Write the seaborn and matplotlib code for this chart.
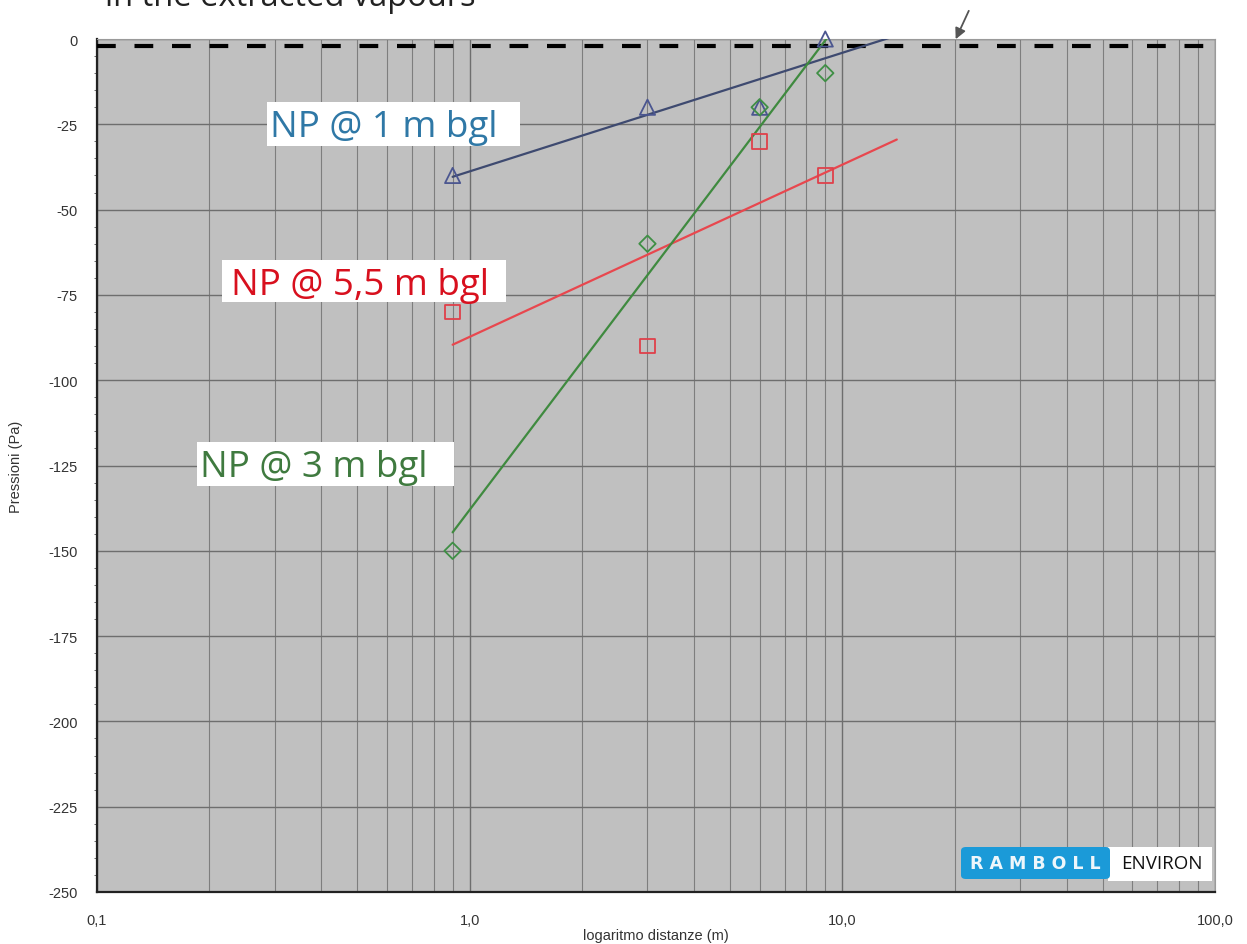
import numpy as np
import pandas as pd
import matplotlib
matplotlib.use("Agg")
import matplotlib.pyplot as plt
import seaborn as sns
from matplotlib.ticker import FixedLocator, NullFormatter, MultipleLocator
from matplotlib.patches import FancyBboxPatch, Rectangle

# ---- data ----
distances = [0.9, 3.0, 6.0, 9.0]
np_1m = [-40, -20, -20, 0]
np_5_5m = [-80, -90, -30, -40]
np_3m = [-150, -60, -20, -10]
series_names = ["NP @ 1 m bgl", "NP @ 5,5 m bgl", "NP @ 3 m bgl"]
threshold = -2
x_ticks = [0.1, 1.0, 10.0, 100.0]
x_tick_labels = ["0,1", "1,0", "10,0", "100,0"]
y_ticks = list(range(0, -251, -25))
fit_range = [0.9, 14.0]

sns.set_style("white")
plt.rcParams['font.family'] = ['Liberation Sans', 'DejaVu Sans']

W, H = 1247, 945
fig = plt.figure(figsize=(W / 100, H / 100), dpi=100)
ax = fig.add_axes([97/W, 1-893/H, (1215-97)/W, (893-40)/H])
ax.set_facecolor("#c0c0c0")

ax.set_xscale("log")
ax.set_xlim(0.1, 100)
ax.set_ylim(-250, 0)

# grid
ax.xaxis.set_major_locator(FixedLocator(x_ticks))
ax.xaxis.set_minor_locator(FixedLocator([m * 10.0**e for e in range(-1, 2) for m in range(2, 10)]))
ax.xaxis.set_minor_formatter(NullFormatter())
ax.set_xticklabels(x_tick_labels)
ax.set_yticks(y_ticks)
ax.set_yticklabels([str(v) for v in y_ticks])
ax.yaxis.set_minor_locator(MultipleLocator(5))
ax.grid(which="major", axis="both", color="#6e6e6e", linewidth=1.0)
ax.grid(which="minor", axis="x", color="#7e7e7e", linewidth=0.8)
ax.set_axisbelow(True)

ax.tick_params(axis="both", which="major", labelsize=10.5, labelcolor="#333333",
               length=4, color="#444444")
ax.tick_params(axis="y", which="major", pad=10)
ax.tick_params(axis="x", which="major", pad=11)
ax.tick_params(axis="y", which="minor", length=2.5, color="#555555", left=True)
ax.tick_params(axis="x", which="minor", length=0)
for s in ["left", "bottom"]:
    ax.spines[s].set_color("#222222")
    ax.spines[s].set_linewidth(1.6)
for s in ["top", "right"]:
    ax.spines[s].set_color("#9a9a9a")
    ax.spines[s].set_linewidth(0.8)

# threshold dashed line
ax.axhline(threshold, color="black", linewidth=3, dashes=(4.5, 4.5), zorder=3)

colors = {"NP @ 1 m bgl": "#3e4a70", "NP @ 5,5 m bgl": "#e8474e", "NP @ 3 m bgl": "#3f8a3f"}
marker_colors = {"NP @ 1 m bgl": "#4b5690", "NP @ 5,5 m bgl": "#e0404a", "NP @ 3 m bgl": "#3f8f45"}
markers = {"NP @ 1 m bgl": "^", "NP @ 5,5 m bgl": "s", "NP @ 3 m bgl": "D"}
msize = {"NP @ 1 m bgl": 120, "NP @ 5,5 m bgl": 110, "NP @ 3 m bgl": 70}

values = {"NP @ 1 m bgl": np_1m, "NP @ 5,5 m bgl": np_5_5m, "NP @ 3 m bgl": np_3m}
xfit = np.geomspace(fit_range[0], fit_range[1], 200)
for name in series_names:
    y = np.array(values[name], dtype=float)
    slope, intercept = np.polyfit(np.log10(distances), y, 1)
    fit_df = pd.DataFrame({"x": xfit, "y": intercept + slope * np.log10(xfit)})
    sns.lineplot(data=fit_df, x="x", y="y", ax=ax, color=colors[name], linewidth=1.6, zorder=4)

for name in ["NP @ 5,5 m bgl", "NP @ 1 m bgl", "NP @ 3 m bgl"]:
    df = pd.DataFrame({"x": distances, "y": values[name]})
    sns.scatterplot(data=df, x="x", y="y", ax=ax, marker=markers[name], s=msize[name],
                    facecolor="none", edgecolor=marker_colors[name], linewidth=1.3,
                    zorder=5, clip_on=False)

ax.set_xlabel("logaritmo distanze (m)", fontsize=10.5, color="#333333", labelpad=1)
ax.set_ylabel("Pressioni (Pa)", fontsize=10.5, color="#333333", labelpad=18)

# series labels (white boxes + text), positions in figure pixels
label_box = {"NP @ 1 m bgl": (267, 103, 520, 147), "NP @ 5,5 m bgl": (222, 261, 506, 303),
             "NP @ 3 m bgl": (197, 443, 454, 487)}
label_text = {"NP @ 1 m bgl": (270, 137), "NP @ 5,5 m bgl": (231, 295),
              "NP @ 3 m bgl": (200, 477)}
label_col = {"NP @ 1 m bgl": "#2f78a6", "NP @ 5,5 m bgl": "#d8101e", "NP @ 3 m bgl": "#3f7a3f"}
for name in series_names:
    x0, y0, x1, y1 = label_box[name]
    fig.patches.append(Rectangle((x0/W, 1-y1/H), (x1-x0)/W, (y1-y0)/H, transform=fig.transFigure,
                                 facecolor="white", edgecolor="none", zorder=6))
    tx, ty = label_text[name]
    fig.text(tx/W, 1-ty/H, name, fontsize=26.5, family="Open Sans",
             color=label_col[name], va="baseline", ha="left", zorder=7)

# slide title fragment cut by the top edge (as in the source screenshot)
fig.text(105/W, 1 - 6/H, "in the extracted vapours", fontsize=23.5, family="Open Sans",
         color="#222222", va="baseline", ha="left")

# arrow from outside
ax.annotate("", xy=(20, -0.8), xytext=(22, 9),
            arrowprops=dict(arrowstyle="-|>", color="#555555", lw=1.3, mutation_scale=16),
            annotation_clip=False)

# logo
fig.patches.append(Rectangle((1108/W, 1-882/H), (1212-1108)/W, 34/H, transform=fig.transFigure,
                             facecolor="white", edgecolor="none", zorder=3))
fig.patches.append(FancyBboxPatch((961/W, 1-880/H), (1110-961)/W, 32/H,
                                  boxstyle="round,pad=0,rounding_size=0.004",
                                  transform=fig.transFigure, facecolor="#1b9ad8",
                                  edgecolor="none", zorder=4))
fig.text(1035/W, 1 - 864/H, "R A M B O L L", fontsize=12.5, family="DejaVu Sans", weight="bold",
         color="#eef6fb", ha="center", va="center", zorder=5)
fig.text(1162/W, 1 - 864/H, "ENVIRON", fontsize=13.5, family="Open Sans",
         color="#111111", ha="center", va="center", zorder=5)

fig.savefig("out.png", dpi=100, facecolor="white")
